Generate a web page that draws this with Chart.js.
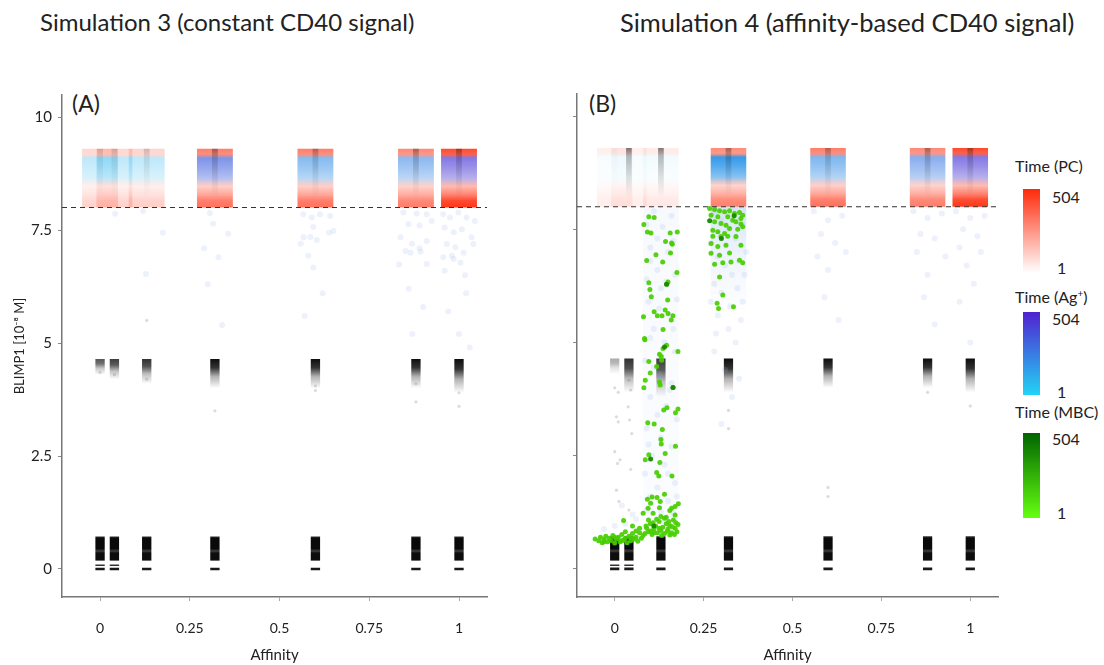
<!DOCTYPE html>
<html>
<head>
<meta charset="utf-8">
<script src="https://cdn.jsdelivr.net/npm/chart.js@4.4.1/dist/chart.umd.min.js"></script>
<style>
  body { margin: 0; width: 1104px; height: 665px; background: #fff; position: relative; overflow: hidden; font-family: Lato, sans-serif; color: #222; }
  .txt { position: absolute; white-space: nowrap; line-height: 1; }
  canvas { position: absolute; }
  .cbar { position: absolute; left: 1023px; width: 17px; }
</style>
</head>
<body>
<div class="txt" style="left:40px;top:10px;font-size:24px">Simulation 3 (constant CD40 signal)</div>
<div class="txt" style="left:620px;top:10px;font-size:25.5px">Simulation 4 (affinity-based CD40 signal)</div>
<div class="txt" style="left:72px;top:92px;font-size:23px">(A)</div>
<div class="txt" style="left:589px;top:92px;font-size:23px">(B)</div>

<canvas id="chartA" width="500" height="585" style="left:0;top:80px"></canvas>
<canvas id="chartB" width="500" height="585" style="left:515px;top:80px"></canvas>

<!-- colour keys -->
<div class="txt" style="left:1015px;top:158px;font-size:16px">Time (PC)</div>
<div class="cbar" style="top:189px;height:84px;background:linear-gradient(#ff2a0a,#ffffff)"></div>
<div class="txt" style="left:1052px;top:189px;font-size:16px">504</div>
<div class="txt" style="left:1057px;top:260px;font-size:16px">1</div>

<div class="txt" style="left:1015px;top:288px;font-size:16px">Time (Ag<sup style="font-size:10px">+</sup>)</div>
<div class="cbar" style="top:312px;height:83px;background:linear-gradient(#5022d0,#22d4f5)"></div>
<div class="txt" style="left:1052px;top:311px;font-size:16px">504</div>
<div class="txt" style="left:1057px;top:384px;font-size:16px">1</div>

<div class="txt" style="left:1015px;top:404px;font-size:16px">Time (MBC)</div>
<div class="cbar" style="top:433px;height:85px;background:linear-gradient(#006400,#66ff10)"></div>
<div class="txt" style="left:1052px;top:431px;font-size:16px">504</div>
<div class="txt" style="left:1057px;top:505px;font-size:16px">1</div>

<script>
// affinity classes (x) and axes
const affinity = [0, 0.04, 0.13, 0.32, 0.6, 0.88, 1];
const xTicks = [0, 0.25, 0.5, 0.75, 1];
const xTickLabels = ['0', '0.25', '0.5', '0.75', '1'];
const yTicks = [0, 2.5, 5, 7.5, 10];
const yTickLabels = ['0', '2.5', '5', '7.5', '10'];
const xRange = [-0.106, 1.078];
const yRange = [-0.62, 10.49];
const pcThreshold = 8;
const pcRange = [8, 9.3];      // BLIMP1 of plasma cells
const jitter = 0.05;           // horizontal jitter of the cells

// simulation 3
const pcDensityA = [0.3, 0.3, 0.32, 0.9, 0.9, 0.85, 1];
const pcTimeA = [380, 380, 380, 400, 400, 390, 504];
const agDensityA = [0.4, 0.4, 0.4, 0.9, 0.8, 0.75, 0.9];
const agTimeA = [90, 90, 90, 330, 200, 230, 440];
const gcDensityA = [0.7, 0.8, 0.85, 1, 1, 1, 1];
const gcTailA = [4.3, 4.2, 4.1, 4.0, 4.0, 4.0, 3.9];
const streakA = [0.25, 0.25, 0.3, 0.6, 0.5, 0.6, 0.6];

// simulation 4
const pcDensityB = [0.14, 0.14, 0.18, 0.85, 0.9, 0.85, 1];
const pcTimeB = [320, 320, 320, 380, 400, 390, 504];
const agDensityB = [0.05, 0.05, 0.07, 1.3, 0.85, 0.8, 0.9];
const agTimeB = [90, 90, 90, 170, 200, 260, 440];
const gcDensityB = [0.35, 0.85, 0.8, 1, 1, 1, 1];
const gcTailB = [4.3, 3.9, 3.8, 3.9, 4.0, 4.0, 3.9];
const streakB = [0.05, 0.9, 0.9, 0.6, 0.5, 0.6, 0.6];

// GC B cell clusters at low BLIMP1 (same in both runs)
const gcTop = 4.65;
const lowCluster = [0.18, 0.72];
const lowLine = [-0.03, 0.03];
const midCluster = [0.065, 0.1];
const midClusterAffinity = [0, 0.04];

// sparse Ag+ cells below the PC threshold
const agCellsA = [
  [0.042, 7.86], [0.12, 7.92], [0.175, 7.44], [0.128, 6.53], [0.306, 7.88], [0.315, 7.64], [0.357, 7.42], [0.29, 7.1], [0.33, 6.9], [0.3, 6.3], [0.34, 5.4],
  [0.566, 7.85], [0.59, 7.78], [0.594, 7.57], [0.604, 7.28], [0.567, 7.34], [0.586, 7.35], [0.559, 7.2], [0.641, 7.81], [0.65, 7.48], [0.638, 7.44], [0.58, 6.93], [0.594, 6.67], [0.613, 7.85], [0.62, 6.1], [0.57, 5.6],
  [0.845, 7.89], [0.882, 7.87], [0.91, 7.85], [0.859, 7.63], [0.89, 7.6], [0.924, 7.7], [0.837, 7.34], [0.869, 7.2], [0.91, 7.26], [0.851, 7.04], [0.865, 7.0], [0.893, 7.02], [0.833, 6.74], [0.91, 6.75], [0.89, 7.1], [0.86, 6.2], [0.9, 5.8], [0.87, 5.2],
  [0.956, 7.85], [0.975, 7.78], [0.998, 7.89], [1.021, 7.78], [1.044, 7.7], [0.96, 7.56], [0.985, 7.45], [1.008, 7.52], [1.035, 7.34], [0.966, 7.19], [0.99, 7.12], [1.013, 7.0], [1.04, 7.19], [0.956, 6.9], [0.98, 6.93], [1.004, 6.78], [0.96, 6.6], [1.017, 6.5], [0.985, 6.86], [1.02, 6.1], [0.97, 5.7], [1.0, 5.2], [1.03, 4.9]
];
const otherCellsA = [
  [0.0, 4.35], [0.04, 4.3], [0.13, 4.2], [0.32, 3.5], [0.6, 3.95], [0.6, 4.05], [0.88, 3.7], [0.88, 4.1], [1.0, 3.6], [1.0, 3.9], [0.13, 5.5]
];
const agCellsB = [
  [0.09, 7.6], [0.12, 7.3], [0.15, 7.0], [0.1, 6.8], [0.17, 6.5], [0.13, 6.2], [0.095, 5.9], [0.155, 5.6], [0.11, 5.3], [0.14, 5.0], [0.17, 4.8], [0.085, 4.6], [0.125, 4.3], [0.16, 4.1], [0.1, 3.8], [0.145, 3.6], [0.175, 3.3], [0.09, 3.1], [0.13, 2.9], [0.16, 2.7], [0.105, 2.5], [0.14, 2.3], [0.085, 2.1], [0.17, 1.9], [0.12, 1.8], [0.1, 1.6], [0.15, 1.5], [0.09, 1.3], [0.13, 1.25], [0.165, 1.2],
  [0.11, 7.9], [0.16, 7.8], [0.135, 7.55], [0.1, 7.1], [0.165, 7.25], [0.12, 6.6], [0.145, 6.35], [0.09, 6.4], [0.175, 5.95], [0.125, 5.75], [0.1, 5.1], [0.165, 5.3], [0.13, 4.7], [0.11, 4.45], [0.155, 3.95], [0.12, 3.4], [0.095, 2.75], [0.15, 2.1], [0.175, 1.6], [0.14, 1.05],
  [0.0, 0.95], [0.03, 1.0], [0.06, 1.1], [-0.03, 0.88], [0.05, 1.2], [0.02, 1.4],
  [0.28, 7.9], [0.3, 7.7], [0.32, 7.5], [0.34, 7.3], [0.36, 7.6], [0.27, 7.2], [0.29, 6.9], [0.31, 6.7], [0.35, 6.8], [0.37, 7.0], [0.33, 6.5], [0.28, 6.3], [0.3, 6.1], [0.345, 6.2], [0.36, 5.9], [0.29, 5.6], [0.32, 5.3], [0.34, 5.0], [0.28, 4.8], [0.31, 4.4], [0.35, 4.2], [0.33, 3.8], [0.3, 3.2], [0.27, 5.9], [0.365, 6.5], [0.325, 5.8], [0.285, 5.2], [0.355, 5.5],
  [0.56, 7.9], [0.6, 7.7], [0.64, 7.8], [0.58, 7.4], [0.62, 7.2], [0.57, 6.9], [0.65, 7.0], [0.6, 6.6], [0.59, 6.0], [0.63, 5.5],
  [0.84, 7.9], [0.88, 7.75], [0.92, 7.85], [0.86, 7.4], [0.9, 7.3], [0.85, 7.0], [0.93, 6.9], [0.88, 6.5], [0.87, 6.0], [0.9, 5.4],
  [0.96, 7.9], [1.0, 7.75], [1.04, 7.8], [0.98, 7.5], [1.02, 7.35], [0.97, 7.1], [1.03, 7.0], [0.99, 6.7], [1.01, 6.3], [0.97, 5.9], [1.0, 5.0]
];
const otherCellsB = [
  [0.005, 3.36], [0.01, 3.25], [0.0, 2.59], [0.015, 2.41], [0.008, 2.33], [0.005, 1.74], [0.012, 1.49], [0.0, 4.0], [0.01, 3.9],
  [0.04, 4.17], [0.045, 3.95], [0.038, 3.58], [0.042, 3.29], [0.048, 2.99], [0.04, 1.3], [0.045, 2.2],
  [0.32, 3.5], [0.32, 3.1], [0.6, 1.6], [0.6, 1.8], [0.88, 3.9], [1.0, 3.6]
];

// memory B cells (simulation 4 only)
const mbcCellsB = [
  // column 0.13, upper part
  [0.096, 7.78], [0.111, 7.76], [0.082, 7.61], [0.092, 7.44], [0.102, 7.42], [0.156, 7.42], [0.176, 7.44], [0.143, 7.23], [0.16, 7.2], [0.162, 7.17], [0.157, 6.98], [0.116, 6.94], [0.135, 6.78], [0.09, 6.81], [0.175, 6.55],
  [0.096, 6.32], [0.146, 6.29], [0.15, 6.34], [0.099, 6.17], [0.103, 6.01], [0.149, 5.94], [0.081, 5.57], [0.111, 5.68], [0.12, 5.59], [0.133, 5.59], [0.142, 5.72], [0.15, 5.64], [0.164, 5.59], [0.159, 5.5], [0.136, 5.29],
  [0.084, 5.09], [0.085, 5.06], [0.146, 4.94], [0.136, 4.87], [0.178, 4.8], [0.126, 4.74], [0.131, 4.69], [0.096, 4.58], [0.118, 4.47], [0.132, 4.61], [0.086, 4.17], [0.1, 4.33], [0.082, 4.0], [0.128, 4.06], [0.126, 4.13], [0.164, 4.01],
  [0.178, 3.53], [0.171, 3.45], [0.138, 3.51], [0.147, 3.56], [0.093, 3.23], [0.111, 3.2], [0.134, 3.08], [0.13, 2.86], [0.131, 2.76], [0.171, 2.71], [0.142, 2.55], [0.096, 2.52], [0.086, 2.41], [0.127, 2.35], [0.118, 2.13], [0.124, 2.05], [0.161, 2.05],
  [0.14, 1.65], [0.105, 1.59], [0.119, 1.58], [0.092, 1.54], [0.101, 1.45], [0.128, 1.49], [0.179, 1.44], [0.17, 1.38], [0.094, 1.34], [0.126, 1.35], [0.16, 1.34], [0.155, 1.29], [0.08, 1.23], [0.108, 1.23], [0.13, 1.16], [0.145, 1.14], [0.17, 1.19], [0.025, 1.07],
  // column 0.32
  [0.267, 7.96], [0.281, 7.94], [0.295, 7.91], [0.309, 7.89], [0.323, 7.91], [0.337, 7.85], [0.351, 7.87], [0.36, 7.81], [0.271, 7.81], [0.29, 7.78], [0.318, 7.78], [0.332, 7.7], [0.355, 7.74], [0.281, 7.67], [0.299, 7.63], [0.313, 7.59], [0.341, 7.67], [0.355, 7.62],
  [0.276, 7.48], [0.29, 7.45], [0.309, 7.41], [0.323, 7.52], [0.346, 7.5], [0.36, 7.56], [0.299, 7.34], [0.318, 7.35], [0.276, 7.35], [0.341, 7.34], [0.271, 7.19], [0.29, 7.12], [0.313, 7.15], [0.355, 7.15], [0.271, 6.97], [0.295, 6.93], [0.323, 6.98],
  [0.281, 6.73], [0.304, 6.76], [0.327, 6.78], [0.351, 6.82], [0.36, 6.76], [0.295, 6.45], [0.288, 5.87], [0.292, 5.75], [0.304, 6.05], [0.334, 5.79],
  // bottom, columns 0 and 0.04
  [-0.055, 0.66], [-0.045, 0.62], [-0.04, 0.7], [-0.035, 0.58], [-0.03, 0.65], [-0.025, 0.72], [-0.02, 0.6], [-0.015, 0.68], [-0.01, 0.63], [-0.005, 0.74], [0, 0.57], [0.005, 0.66], [0.01, 0.7], [0.015, 0.6], [0.02, 0.76], [0.025, 0.64], [0.03, 0.68], [0.035, 0.58],
  [0.04, 0.72], [0.045, 0.62], [0.05, 0.78], [0.055, 0.66], [0.06, 0.7], [0.065, 0.61], [0.07, 0.8], [0.075, 0.68], [0.08, 0.74], [0, 0.7], [0.02, 0.62], [0.045, 0.69], [-0.03, 0.6], [0.06, 0.84], [0.03, 0.82], [0.05, 0.95], [0.07, 0.9],
  // bottom, column 0.13
  [0.085, 0.78], [0.09, 0.9], [0.095, 0.82], [0.1, 1.0], [0.105, 0.76], [0.11, 0.88], [0.115, 0.95], [0.12, 0.8], [0.125, 1.05], [0.13, 0.85], [0.135, 0.92], [0.14, 0.78], [0.145, 1.0], [0.15, 0.88], [0.155, 0.96], [0.16, 0.8], [0.165, 1.08],
  [0.17, 0.9], [0.175, 0.82], [0.178, 0.98], [0.088, 0.95], [0.1, 0.84], [0.118, 1.1], [0.132, 0.74], [0.148, 0.83], [0.162, 0.93], [0.172, 1.02], [0.108, 1.02], [0.14, 1.12], [0.155, 0.75], [0.095, 1.08], [0.125, 0.9], [0.168, 0.76], [0.11, 0.8], [0.152, 1.05]
];
const mbcLateCellsB = [
  [0.267, 7.69], [0.164, 4.01], [0.101, 2.43], [0.146, 6.29], [0.3, 7.3], [0.336, 7.8], [0.14, 4.9], [0.11, 0.95]
];

// colour scales of the keys (time 1 -> 504)
const pcScale = [[255, 255, 255], [255, 42, 10]];
const agScale = [[34, 212, 245], [80, 34, 208]];

function timeColor(scale, t, a) {
  const f = (t - 1) / 503;
  const c = scale[0].map((v, i) => Math.round(v + (scale[1][i] - v) * f));
  return 'rgba(' + c.join(',') + ',' + Math.min(1, a).toFixed(3) + ')';
}

function pts(list) { return list.map(p => ({ x: p[0], y: p[1] })); }

function box(x0, x1, y0, y1) {
  return [{ x: x0, y: y0 }, { x: x1, y: y0 }, { x: x1, y: y1 }, { x: x0, y: y1 }, { x: x0, y: y0 }];
}

// vertical gradient between two BLIMP1 values
function vGrad(chart, top, bottom, stops) {
  const y = chart.scales.y;
  const g = chart.ctx.createLinearGradient(0, y.getPixelForValue(top), 0, y.getPixelForValue(bottom));
  stops.forEach(s => g.addColorStop(s[0], s[1]));
  return g;
}

function area(data, top, bottom, stops, order) {
  return {
    type: 'line', data: data, showLine: true, fill: 'shape', tension: 0,
    pointRadius: 0, borderWidth: 0, borderColor: 'transparent', order: order,
    backgroundColor: ctx => ctx.chart.chartArea ? vGrad(ctx.chart, top, bottom, stops) : 'transparent'
  };
}

function black(a) { return 'rgba(0,0,0,' + Math.min(1, a).toFixed(3) + ')'; }

function buildDatasets(run) {
  const ds = [];
  ds.push({ type: 'line', data: pts([[xRange[0], pcThreshold], [xRange[1], pcThreshold]]), borderColor: '#333',
            borderWidth: 1.2, borderDash: [5, 4], pointRadius: 0, showLine: true, fill: false, order: 0 });
  if (run.mbc) {
    ds.push({ data: pts(run.mbcLate), pointRadius: 2.5, backgroundColor: 'rgba(25,135,0,0.95)', borderWidth: 0, order: 1 });
    ds.push({ data: pts(run.mbc), pointRadius: 2.5, backgroundColor: 'rgba(72,206,0,0.92)', borderWidth: 0, order: 2 });
  }
  ds.push({ data: pts(run.other), pointRadius: 1.6, backgroundColor: 'rgba(60,60,60,0.18)', borderWidth: 0, order: 3 });
  ds.push({ data: pts(run.ag), pointRadius: 3, backgroundColor: 'rgba(150,180,235,0.18)', borderWidth: 0, order: 4 });

  affinity.forEach((a, i) => {
    const pc = run.pcDensity[i], ag = run.agDensity[i];
    const R = o => timeColor(pcScale, run.pcTime[i], o * pc);
    const A = o => timeColor(agScale, run.agTime[i], o * ag);
    ds.push(area(box(a - jitter, a + jitter, pcRange[0], pcRange[1]), pcRange[1], pcRange[0], [
      [0, R(0.85)], [0.09, R(0.75)], [0.16, A(0.75)], [0.32, A(0.62)], [0.5, A(0.45)],
      [0.64, R(0.32)], [0.78, R(0.58)], [0.88, R(0.84)], [1, R(0.94)]
    ], 20));
    // streak of non-PC cells in the column centre
    const s = run.streak[i];
    ds.push(area(box(a - 0.008, a + 0.008, 8.2, 9.3), 9.3, 8.2,
      [[0, black(0.55 * s)], [0.15, black(0.3 * s)], [0.6, black(0.12 * s)], [1, black(0)]], 10));
    // GC B cells near BLIMP1 4.6
    const d = run.gcDensity[i];
    ds.push(area(box(a - 0.013, a + 0.013, run.gcTail[i], gcTop), gcTop, run.gcTail[i],
      [[0, black(0.95 * d)], [0.3, black(0.8 * d)], [0.6, black(0.3 * d)], [1, black(0)]], 10));
    ds.push(area(box(a - 0.013, a + 0.013, lowCluster[0], lowCluster[1]), lowCluster[1], lowCluster[0],
      [[0, black(0.8)], [0.08, black(0.96)], [0.5, black(0.96)], [0.6, black(0.75)], [0.68, black(0.95)], [0.95, black(0.95)], [1, black(0.7)]], 10));
    ds.push(area(box(a - 0.013, a + 0.013, lowLine[0], lowLine[1]), lowLine[1], lowLine[0],
      [[0, black(0.9)], [1, black(0.9)]], 10));
    if (midClusterAffinity.includes(a)) {
      ds.push(area(box(a - 0.013, a + 0.013, midCluster[0], midCluster[1]), midCluster[1], midCluster[0],
        [[0, black(0.8)], [1, black(0.8)]], 10));
    }
  });
  if (run.cloud) {
    // dense Ag+ cells just below the threshold (affinity 0.32)
    ds.push(area(box(0.27, 0.37, 5.6, 8), 8, 5.6,
      [[0, 'rgba(150,185,235,0.4)'], [0.4, 'rgba(170,200,240,0.22)'], [1, 'rgba(190,210,245,0)']], 15));
    ds.push(area(box(0.08, 0.18, 1.0, 8), 8, 1.0,
      [[0, 'rgba(180,205,240,0.1)'], [1, 'rgba(190,210,245,0.07)']], 15));
  }
  return ds;
}

function makeChart(id, run, showYLabels, padRight) {
  return new Chart(document.getElementById(id), {
    type: 'scatter',
    data: { datasets: buildDatasets(run) },
    options: {
      responsive: false,
      animation: false,
      layout: { padding: { top: 14, right: padRight, bottom: 0, left: 0 } },
      plugins: { legend: { display: false }, tooltip: { enabled: false } },
      scales: {
        x: {
          type: 'linear', min: xRange[0], max: xRange[1],
          afterBuildTicks: s => { s.ticks = xTicks.map(v => ({ value: v })); },
          afterFit: s => { s.height = 68; },
          ticks: { callback: (v, i) => xTickLabels[i], font: { family: 'Lato', size: 14 }, color: '#222', padding: 19, maxRotation: 0 },
          grid: { drawOnChartArea: false, drawTicks: true, tickLength: 4, color: '#aaa' },
          border: { color: '#777', width: 1.5 },
          title: { display: true, text: 'Affinity', font: { family: 'Lato', size: 15 }, color: '#222', padding: { top: 0, bottom: 1 } }
        },
        y: {
          type: 'linear', min: yRange[0], max: yRange[1],
          afterBuildTicks: s => { s.ticks = yTicks.map(v => ({ value: v })); },
          afterFit: s => { s.width = 62; },
          ticks: { display: showYLabels, callback: (v, i) => yTickLabels[i], font: { family: 'Lato', size: 15 }, color: '#222', padding: 6 },
          grid: { drawOnChartArea: false, drawTicks: true, tickLength: 4, color: '#888' },
          border: { color: '#777', width: 1.5 },
          title: { display: showYLabels, text: 'BLIMP1 [10⁻⁸ M]', font: { family: 'Lato', size: 13 }, color: '#222', padding: { top: 12, bottom: 0 } }
        }
      }
    }
  });
}

makeChart('chartA', {
  pcDensity: pcDensityA, pcTime: pcTimeA, agDensity: agDensityA, agTime: agTimeA,
  gcDensity: gcDensityA, gcTail: gcTailA, streak: streakA,
  ag: agCellsA, other: otherCellsA
}, true, 13);

makeChart('chartB', {
  pcDensity: pcDensityB, pcTime: pcTimeB, agDensity: agDensityB, agTime: agTimeB,
  gcDensity: gcDensityB, gcTail: gcTailB, streak: streakB,
  ag: agCellsB, other: otherCellsB, mbc: mbcCellsB, mbcLate: mbcLateCellsB, cloud: true
}, false, 17);
</script>
</body>
</html>
